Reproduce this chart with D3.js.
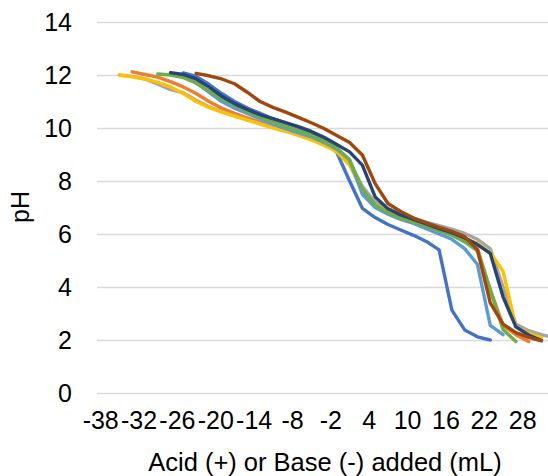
<!DOCTYPE html>
<html>
<head>
<meta charset="utf-8">
<script src="https://cdn.jsdelivr.net/npm/d3@7"></script>
<style>
  html, body { margin: 0; padding: 0; background: #ffffff; }
  svg { display: block; font-family: "Liberation Sans", Arial, sans-serif; }
</style>
</head>
<body>
<svg id="chart" width="548" height="476"></svg>
<script>
// Volume of titrant (mL): shared sample points for every trial
const volumes = [-35, -33, -31, -29, -27, -25, -23, -21, -19, -17, -15, -13, -11, -9, -7, -5, -3, -1,
                 1, 3, 5, 7, 9, 11, 13, 15, 17, 19, 21, 23, 25, 27, 29, 31, 33];

// pH readings per trial (null = no reading at that volume)
const phTrial1 = [null, null, null, null, null, 12.08, 11.95, 11.65, 11.3, 11.0, 10.75, 10.55, 10.35, 10.18, 10.02, 9.85, 9.6, 9.08,
                  8.0, 6.97, 6.62, 6.36, 6.15, 5.95, 5.72, 5.4, 3.13, 2.38, 2.12, 2.0, null, null, null, null, null];
const phTrial2 = [null, 12.12, 12.02, 11.92, 11.75, 11.55, 11.3, 11.0, 10.75, 10.55, 10.38, 10.22, 10.07, 9.93, 9.78, 9.62, 9.42, 9.15,
                  8.75, 7.6, 7.05, 6.8, 6.62, 6.45, 6.3, 6.15, 6.0, 5.8, 5.45, 3.9, 2.55, 2.2, 1.94, null, null];
const phTrial3 = [12.0, 11.95, 11.85, 11.65, 11.45, 11.33, 11.05, 10.8, 10.62, 10.47, 10.32, 10.17, 10.03, 9.9, 9.75, 9.6, 9.4, 9.15,
                  8.7, 7.8, 7.2, 6.95, 6.75, 6.6, 6.45, 6.32, 6.18, 6.02, 5.8, 5.45, 4.0, 2.6, 2.35, 2.2, 2.08];
const phTrial4 = [12.0, 11.93, 11.85, 11.72, 11.55, 11.3, 11.0, 10.78, 10.6, 10.45, 10.3, 10.15, 10.0, 9.87, 9.72, 9.55, 9.35, 9.1,
                  8.6, 7.65, 7.1, 6.85, 6.65, 6.45, 6.3, 6.15, 6.0, 5.85, 5.65, 5.3, 4.6, 2.5, 2.25, 2.08, null];
const phTrial5 = [null, null, null, null, 12.05, 11.95, 11.7, 11.35, 11.0, 10.75, 10.55, 10.35, 10.15, 9.98, 9.82, 9.66, 9.46, 9.2,
                  8.8, 7.5, 7.0, 6.75, 6.55, 6.4, 6.2, 6.0, 5.8, 5.45, 4.85, 2.55, 2.2, null, null, null, null];
const phTrial6 = [null, null, null, 12.04, 12.0, 11.9, 11.7, 11.4, 11.1, 10.85, 10.62, 10.42, 10.22, 10.05, 9.9, 9.72, 9.5, 9.25,
                  8.8, 7.7, 7.1, 6.8, 6.6, 6.45, 6.3, 6.12, 5.95, 5.7, 5.36, 3.9, 2.4, 1.94, null, null, null];
const phTrial7 = [null, null, null, null, 12.09, 12.02, 11.85, 11.55, 11.2, 10.92, 10.7, 10.5, 10.35, 10.2, 10.05, 9.87, 9.65, 9.38,
                  9.1, 8.6, 7.4, 6.95, 6.72, 6.55, 6.38, 6.2, 6.05, 5.85, 5.6, 5.27, 3.63, 2.5, 2.19, 1.98, null];
const phTrial8 = [null, null, null, null, null, null, 12.06, 11.97, 11.85, 11.67, 11.35, 11.0, 10.78, 10.6, 10.4, 10.2, 9.98, 9.72,
                  9.45, 8.98, 7.9, 7.15, 6.85, 6.6, 6.42, 6.25, 6.1, 5.9, 5.4, 3.4, 2.6, 2.28, 2.1, 1.97, null];

const trials = [phTrial1, phTrial2, phTrial3, phTrial4, phTrial5, phTrial6, phTrial7, phTrial8];
const trialColors = ["#4472C4", "#ED7D31", "#A5A5A5", "#FFC000", "#5B9BD5", "#70AD47", "#264478", "#9E480E"];

const xTickValues = [-38, -32, -26, -20, -14, -8, -2, 4, 10, 16, 22, 28];
const yTickValues = [0, 2, 4, 6, 8, 10, 12, 14];

const FONT = "Liberation Sans, Arial, sans-serif";
const TICK_SIZE = 25;

const svg = d3.select("#chart");
const plot = { left: 97, right: 551, top: 22, bottom: 393 };

const x = d3.scaleLinear().domain([-38.5, 32.5]).range([plot.left, plot.right]);
const y = d3.scaleLinear().domain([0, 14]).range([plot.bottom, plot.top]);

// Horizontal gridlines with value labels
const yAxis = d3.axisLeft(y).tickValues(yTickValues).tickFormat(d => String(d))
  .tickSize(-(plot.right - plot.left)).tickPadding(25);
const gy = svg.append("g").attr("transform", `translate(${plot.left},0)`).call(yAxis);
gy.select(".domain").remove();
gy.selectAll(".tick line").attr("stroke", "#d9d9d9").attr("stroke-width", 1.4);
gy.selectAll(".tick text").attr("fill", "#000").attr("font-size", TICK_SIZE).attr("font-family", FONT);

// Category-style x labels (no axis line)
const xAxis = d3.axisBottom(x).tickValues(xTickValues).tickFormat(d => String(d)).tickSize(0).tickPadding(0);
const gx = svg.append("g").attr("transform", `translate(0,${plot.bottom})`).call(xAxis);
gx.select(".domain").remove();
gx.selectAll(".tick text").attr("fill", "#000").attr("font-size", TICK_SIZE).attr("font-family", FONT)
  .attr("dy", null).attr("y", 36);

// Titration curves
const line = d3.line()
  .defined(d => d[1] !== null)
  .x(d => x(d[0]))
  .y(d => y(d[1]));

trials.forEach((ph, i) => {
  const pts = volumes.map((v, j) => [v, ph[j]]);
  svg.append("path")
    .datum(pts)
    .attr("fill", "none")
    .attr("stroke", trialColors[i])
    .attr("stroke-width", 3.4)
    .attr("stroke-linejoin", "round")
    .attr("stroke-linecap", "round")
    .attr("d", line);
});

// Axis titles
svg.append("text")
  .attr("x", 325).attr("y", 471)
  .attr("text-anchor", "middle").attr("font-size", 25.5).attr("font-family", FONT).attr("fill", "#000")
  .text("Acid (+) or Base (-) added (mL)");

svg.append("text")
  .attr("transform", "translate(29,207) rotate(-90)")
  .attr("text-anchor", "middle").attr("font-size", 25).attr("font-family", FONT).attr("fill", "#000")
  .text("pH");
</script>
</body>
</html>
